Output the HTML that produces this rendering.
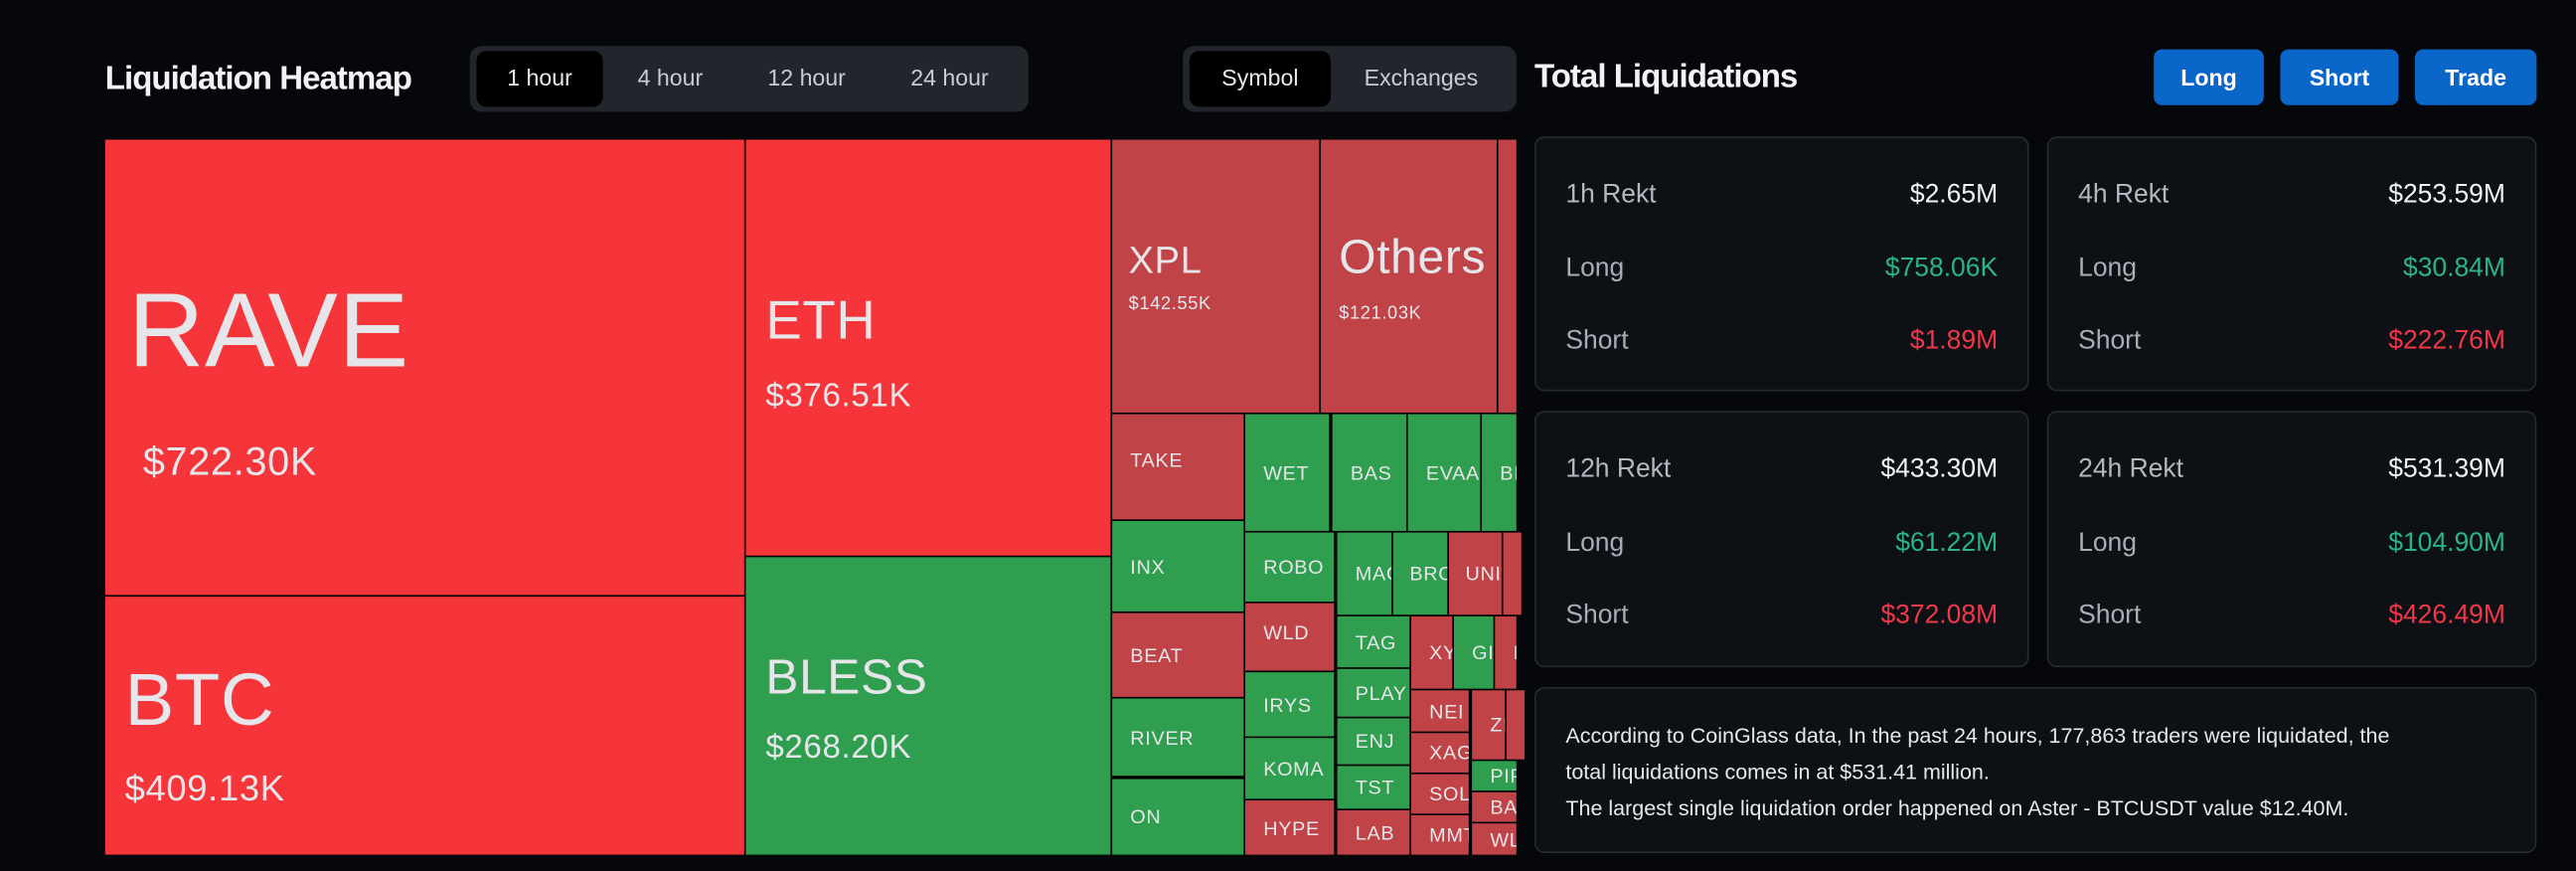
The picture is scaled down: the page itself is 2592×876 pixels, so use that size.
<!DOCTYPE html>
<html><head><meta charset="utf-8"><style>
html,body{margin:0;padding:0;background:#05070b;overflow:hidden}
body{width:2592px;height:876px;font-family:"Liberation Sans",sans-serif}
#s{position:absolute;left:0;top:0;width:1568px;height:530px;transform:scale(1.65306);transform-origin:0 0;background:#05070b}
.a{position:absolute}
.t{position:absolute;box-sizing:border-box;color:#e6e6ea;overflow:hidden;white-space:nowrap;display:flex;align-items:center;padding-left:11px;font-size:12px;letter-spacing:0.4px}
.R{background:#f5353a}.r{background:#c04347}.g{background:#2f9e4f}
.tab{position:absolute;color:#c8ccd3;font-size:14px;text-align:center}
.card{position:absolute;background:#0d1015;border:1px solid #262a31;border-radius:6px;box-sizing:border-box}
.row{position:absolute;left:18px;right:18px;font-size:16px;color:#a9adb5}
.row span{position:absolute;right:0;top:0}
.btn{position:absolute;top:30px;height:34px;background:#0b66c9;border-radius:5px;color:#fff;font-weight:bold;font-size:14px;text-align:center;line-height:34px}
</style></head><body><div id="s">
<div class="a" style="left:64px;top:37px;font-size:20px;font-weight:bold;color:#f2f3f5;letter-spacing:-0.6px">Liquidation Heatmap</div>
<div class="a" style="left:286px;top:28px;width:340px;height:40px;background:#22262c;border-radius:7px"></div>
<div class="a" style="left:290px;top:31px;width:77px;height:34px;background:#000;border-radius:6px"></div>
<div class="tab" style="left:290px;top:39px;width:77px;color:#e6e8eb">1 hour</div>
<div class="tab" style="left:368px;top:39px;width:80px">4 hour</div>
<div class="tab" style="left:450px;top:39px;width:82px">12 hour</div>
<div class="tab" style="left:535px;top:39px;width:86px">24 hour</div>
<div class="a" style="left:720px;top:28px;width:203px;height:40px;background:#22262c;border-radius:7px"></div>
<div class="a" style="left:724px;top:31px;width:86px;height:34px;background:#000;border-radius:6px"></div>
<div class="tab" style="left:724px;top:39px;width:86px;color:#e6e8eb">Symbol</div>
<div class="tab" style="left:812px;top:39px;width:106px">Exchanges</div>
<div class="a" style="left:934px;top:36px;font-size:20px;font-weight:bold;color:#f2f3f5;letter-spacing:-0.6px">Total Liquidations</div>
<div class="btn" style="left:1311px;width:67px">Long</div>
<div class="btn" style="left:1388px;width:72px">Short</div>
<div class="btn" style="left:1470px;width:74px">Trade</div>

<div class="a" style="left:64px;top:85px;width:859px;height:435px;background:#000"></div>
<div class="t R" style="left:64px;top:85px;width:389px;height:277px;display:block;padding:0">
<div class="a" style="left:14px;top:84px;font-size:64px;line-height:1">RAVE</div>
<div class="a" style="left:23px;top:183px;font-size:24px">$722.30K</div></div>
<div class="t R" style="left:64px;top:363px;width:389px;height:157px;display:block;padding:0">
<div class="a" style="left:12px;top:40px;font-size:45px;line-height:1">BTC</div>
<div class="a" style="left:12px;top:104px;font-size:22px">$409.13K</div></div>
<div class="t R" style="left:454px;top:85px;width:222px;height:253px;display:block;padding:0">
<div class="a" style="left:12px;top:93px;font-size:33px;line-height:1">ETH</div>
<div class="a" style="left:12px;top:145px;font-size:20px">$376.51K</div></div>
<div class="t g" style="left:454px;top:339px;width:222px;height:181px;display:block;padding:0">
<div class="a" style="left:12px;top:59px;font-size:30px;line-height:1">BLESS</div>
<div class="a" style="left:12px;top:105px;font-size:20px">$268.20K</div></div>
<div class="t r" style="left:677px;top:85px;width:126px;height:166px;display:block;padding:0">
<div class="a" style="left:10px;top:62px;font-size:23px;line-height:1">XPL</div>
<div class="a" style="left:10px;top:94px;font-size:11px">$142.55K</div></div>
<div class="t r" style="left:804px;top:85px;width:107px;height:166px;display:block;padding:0">
<div class="a" style="left:11px;top:58px;font-size:29px;line-height:1">Others</div>
<div class="a" style="left:11px;top:100px;font-size:11px">$121.03K</div></div>
<div class="t r" style="left:912px;top:85px;width:11px;height:166px"></div>

<div class="t r" style="left:677px;top:252px;width:80px;height:64px;padding-bottom:8px">TAKE</div>
<div class="t g" style="left:677px;top:317px;width:80px;height:55px">INX</div>
<div class="t r" style="left:677px;top:373px;width:80px;height:51px">BEAT</div>
<div class="t g" style="left:677px;top:425px;width:80px;height:47px">RIVER</div>
<div class="t g" style="left:677px;top:474px;width:80px;height:46px">ON</div>

<div class="t g" style="left:758px;top:252px;width:51px;height:71px">WET</div>
<div class="t g" style="left:811px;top:252px;width:45px;height:71px">BAS</div>
<div class="t g" style="left:857px;top:252px;width:44px;height:71px">EVAA</div>
<div class="t g" style="left:902px;top:252px;width:21px;height:71px">BI</div>

<div class="t g" style="left:758px;top:324px;width:54px;height:42px">ROBO</div>
<div class="t r" style="left:758px;top:367px;width:54px;height:41px;padding-bottom:6px">WLD</div>
<div class="t g" style="left:758px;top:409px;width:54px;height:39px">IRYS</div>
<div class="t g" style="left:758px;top:449px;width:54px;height:37px">KOMA</div>
<div class="t r" style="left:758px;top:487px;width:54px;height:33px">HYPE</div>

<div class="t g" style="left:814px;top:324px;width:33px;height:50px">MAC</div>
<div class="t g" style="left:848px;top:324px;width:33px;height:50px;padding-left:10px">BRO</div>
<div class="t r" style="left:882px;top:324px;width:32px;height:50px;padding-left:10px">UNI</div>
<div class="t r" style="left:915px;top:324px;width:8px;height:50px"></div>

<div class="t g" style="left:814px;top:375px;width:44px;height:31px">TAG</div>
<div class="t g" style="left:814px;top:407px;width:44px;height:29px">PLAY</div>
<div class="t g" style="left:814px;top:437px;width:44px;height:28px">ENJ</div>
<div class="t g" style="left:814px;top:466px;width:44px;height:26px">TST</div>
<div class="t r" style="left:814px;top:493px;width:44px;height:27px">LAB</div>

<div class="t r" style="left:859px;top:375px;width:25px;height:44px">XY</div>
<div class="t g" style="left:885px;top:375px;width:24px;height:44px">GI</div>
<div class="t r" style="left:910px;top:375px;width:13px;height:44px">I</div>

<div class="t r" style="left:859px;top:420px;width:35px;height:25px">NEI</div>
<div class="t r" style="left:859px;top:446px;width:35px;height:24px">XAG</div>
<div class="t r" style="left:859px;top:471px;width:35px;height:24px">SOL</div>
<div class="t r" style="left:859px;top:496px;width:35px;height:24px">MMT</div>

<div class="t r" style="left:896px;top:420px;width:20px;height:42px">ZI</div>
<div class="t r" style="left:917px;top:420px;width:6px;height:42px"></div>
<div class="t g" style="left:896px;top:463px;width:27px;height:18px">PIP</div>
<div class="t r" style="left:896px;top:482px;width:27px;height:18px">BA</div>
<div class="t r" style="left:896px;top:501px;width:27px;height:19px">WL</div>

<div class="card" style="left:934px;top:83px;width:301px;height:155px">
<div class="row" style="top:26px;color:#b4b8bf">1h Rekt<span style="color:#f2f3f5">$2.65M</span></div>
<div class="row" style="top:71px">Long<span style="color:#2bb38c">$758.06K</span></div>
<div class="row" style="top:115px">Short<span style="color:#f0384a">$1.89M</span></div></div>
<div class="card" style="left:1246px;top:83px;width:298px;height:155px">
<div class="row" style="top:26px;color:#b4b8bf">4h Rekt<span style="color:#f2f3f5">$253.59M</span></div>
<div class="row" style="top:71px">Long<span style="color:#2bb38c">$30.84M</span></div>
<div class="row" style="top:115px">Short<span style="color:#f0384a">$222.76M</span></div></div>
<div class="card" style="left:934px;top:250px;width:301px;height:156px">
<div class="row" style="top:26px;color:#b4b8bf">12h Rekt<span style="color:#f2f3f5">$433.30M</span></div>
<div class="row" style="top:71px">Long<span style="color:#2bb38c">$61.22M</span></div>
<div class="row" style="top:115px">Short<span style="color:#f0384a">$372.08M</span></div></div>
<div class="card" style="left:1246px;top:250px;width:298px;height:156px">
<div class="row" style="top:26px;color:#b4b8bf">24h Rekt<span style="color:#f2f3f5">$531.39M</span></div>
<div class="row" style="top:71px">Long<span style="color:#2bb38c">$104.90M</span></div>
<div class="row" style="top:115px">Short<span style="color:#f0384a">$426.49M</span></div></div>
<div class="card" style="left:934px;top:418px;width:610px;height:101px">
<div class="a" style="left:18px;top:18px;width:515px;font-size:13px;line-height:22px;color:#e6e8eb">According to CoinGlass data, In the past 24 hours, 177,863 traders were liquidated, the total liquidations comes in at $531.41 million.<br>The largest single liquidation order happened on Aster - BTCUSDT value $12.40M.</div></div>
</div></body></html>
